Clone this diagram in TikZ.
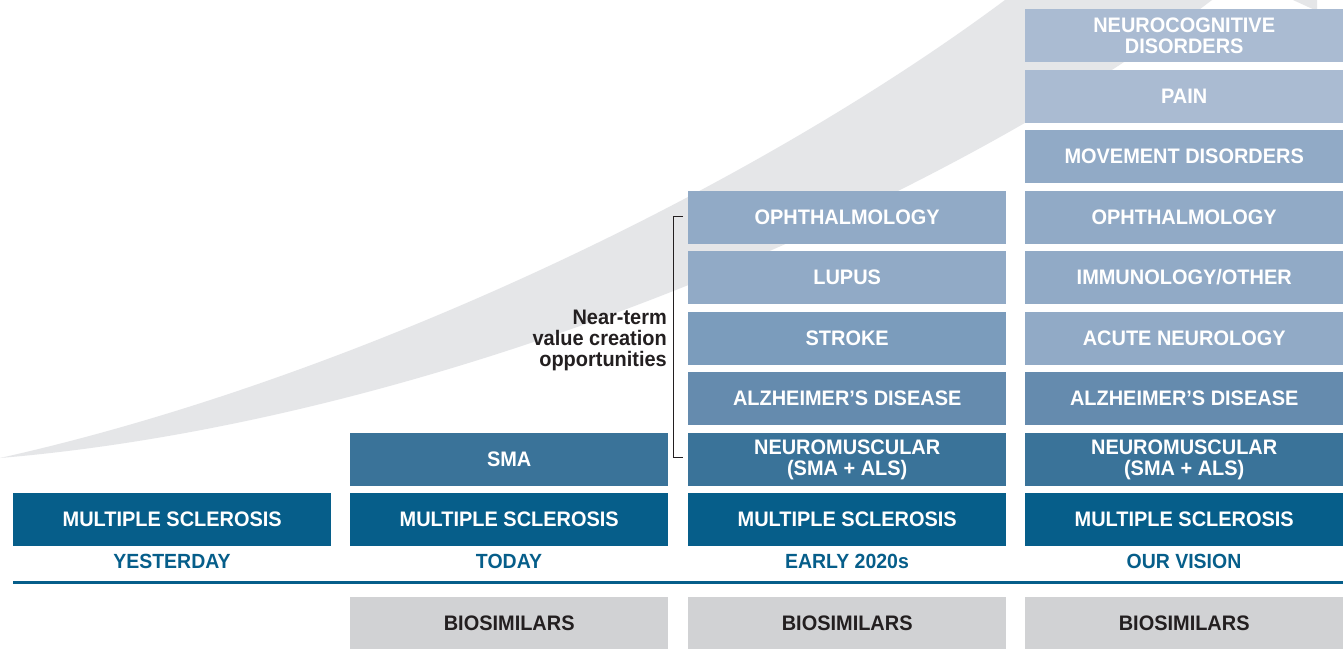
\documentclass[tikz,border=0pt]{standalone}
\usepackage{fontspec}
\setmainfont{Liberation Sans}[FakeStretch=0.95]
\definecolor{msblue}{HTML}{065E8A}
\definecolor{rowB}{HTML}{3A7399}
\definecolor{rowC}{HTML}{658BAE}
\definecolor{rowD}{HTML}{7B9CBC}
\definecolor{rowE}{HTML}{91AAC6}
\definecolor{rowF}{HTML}{AABBD2}
\definecolor{swooshgray}{HTML}{E5E6E8}
\definecolor{biogray}{HTML}{D1D2D4}
\definecolor{inkdark}{HTML}{231F20}
\begin{document}
\begin{tikzpicture}[x=1pt,y=-1pt,
  box/.style={rectangle, draw=none, minimum width=318pt, minimum height=52.7pt,
    inner sep=0pt, text=white, align=center, anchor=north west,
    font=\bfseries\fontsize{21}{21}\selectfont},
  twoline/.style={text depth=7pt},
  biobox/.style={box, fill=biogray, text=inkdark},
  collabel/.style={text=msblue, inner sep=0pt, font=\bfseries\fontsize{20.5}{21}\selectfont},
  swoosh/.style={fill=swooshgray},
  bracketline/.style={draw=inkdark, line width=1pt},
  baseline/.style={draw=msblue, line width=3.3pt}]
\clip (0,0) rectangle (1344,648);
\fill[white] (0,0) rectangle (1344,648);
% background swoosh
\fill[swoosh] (0,458) .. controls (350,380) and (750,190) .. (1005,0)
  -- (1212,0) .. controls (950,200) and (450,420) .. (0,458) -- cycle;
\fill[swoosh] (1293,0) -- (1317,0) -- (1317,11) -- cycle;
% column 1: yesterday
\node[box, fill=msblue] (ms1) at (13,493) {MULTIPLE SCLEROSIS};
% column 2: today
\node[box, fill=msblue] (ms2) at (350,493) {MULTIPLE SCLEROSIS};
\node[box, fill=rowB] (sma2) at (350,433) {SMA};
% column 3: early 2020s
\node[box, fill=msblue] (ms3) at (688,493) {MULTIPLE SCLEROSIS};
\node[box, fill=rowB] (nm3) at (688,433) {NEUROMUSCULAR\\(SMA + ALS)};
\node[box, fill=rowC] (alz3) at (688,372) {ALZHEIMER’S DISEASE};
\node[box, fill=rowD] (str3) at (688,312) {STROKE};
\node[box, fill=rowE] (lup3) at (688,251) {LUPUS};
\node[box, fill=rowE] (oph3) at (688,191) {OPHTHALMOLOGY};
% column 4: our vision
\node[box, fill=msblue] (ms4) at (1025,493) {MULTIPLE SCLEROSIS};
\node[box, fill=rowB] (nm4) at (1025,433) {NEUROMUSCULAR\\(SMA + ALS)};
\node[box, fill=rowC] (alz4) at (1025,372) {ALZHEIMER’S DISEASE};
\node[box, fill=rowE] (acn4) at (1025,312) {ACUTE NEUROLOGY};
\node[box, fill=rowE] (imm4) at (1025,251) {IMMUNOLOGY/OTHER};
\node[box, fill=rowE] (oph4) at (1025,191) {OPHTHALMOLOGY};
\node[box, fill=rowE] (mov4) at (1025,130) {MOVEMENT DISORDERS};
\node[box, fill=rowF] (pain4) at (1025,70) {PAIN};
\node[box, fill=rowF] (ncd4) at (1025,9) {NEUROCOGNITIVE\\DISORDERS};
% column labels
\node[collabel] (lbl1) at (172,561) {YESTERDAY};
\node[collabel] (lbl2) at (509,561) {TODAY};
\node[collabel] (lbl3) at (847,561) {EARLY 2020s};
\node[collabel] (lbl4) at (1184,561) {OUR VISION};
% separator line
\coordinate (lineL) at (13,582.7);
\coordinate (lineR) at (1343,582.7);
\draw[baseline] (lineL) -- (lineR);
% biosimilars
\node[biobox] (bio2) at (350,597) {BIOSIMILARS};
\node[biobox] (bio3) at (688,597) {BIOSIMILARS};
\node[biobox] (bio4) at (1025,597) {BIOSIMILARS};
% near-term annotation
\node[text=inkdark, inner sep=0pt, anchor=east, align=right,
  font=\bfseries\fontsize{21}{21}\selectfont] (near) at (667,340)
  {Near-term\\value creation\\opportunities};
\coordinate (brT) at (683,216);
\coordinate (brB) at (683,457);
\draw[bracketline] (brT) -- (673,216) -- (673,457) -- (brB);
\end{tikzpicture}
\end{document}
